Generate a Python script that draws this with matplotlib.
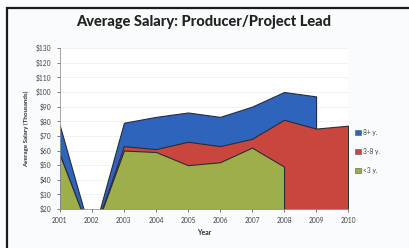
import numpy as np
import matplotlib
matplotlib.use("Agg")
import matplotlib.pyplot as plt
from matplotlib.patches import Rectangle, Patch

# values (thousands of dollars)
years = [2001, 2002, 2003, 2004, 2005, 2006, 2007, 2008, 2009, 2010]
under3 = [57, 0, 60, 59, 50, 52, 62, 49, np.nan, np.nan]
from3to8 = [0, 0, 3, 2, 16, 11, 6, 32, 75, 77]
over8 = [20, 0, 16, 22, 20, 20, 22, 19, 22, np.nan]
series_names = ["8+ y.", "3-8 y.", "<3 y."]
ytick_vals = list(range(20, 140, 10))

blue = "#2f64bd"
red = "#c9463f"
green = "#9eae4b"
edge = "#2b2b3a"

plt.rcParams['font.family'] = ['Lato', 'DejaVu Sans']

x = np.array(years)
g = np.array(under3, dtype=float)
r = np.array(from3to8, dtype=float)
b = np.array(over8, dtype=float)

# stacked tops; a missing lower series counts as zero
cum_g = g
cum_r = np.nan_to_num(g) + r
cum_b = cum_r + b

fig = plt.figure(figsize=(4.1, 2.48), dpi=100)
fig.patch.set_facecolor("#f9fbfc")
ax = fig.add_axes([0.146, 0.157, 0.703, 0.649])
ax.set_facecolor("white")

# draw back to front, each layer filled from zero
for top, col in [(cum_b, blue), (cum_r, red), (cum_g, green)]:
    m = ~np.isnan(top)
    ax.fill_between(x[m], 0, top[m], facecolor=col, edgecolor=edge, linewidth=0.8, zorder=2)

ax.set_xlim(2001, 2010)
ax.set_ylim(20, 130)
ax.set_xticks(years)
ax.set_xticklabels([str(y) for y in years])
ax.set_yticks(ytick_vals)
ax.set_yticklabels(["$%d" % v for v in ytick_vals])
ax.tick_params(labelsize=4.8, colors="#444444", length=2, width=0.5, pad=4)
ax.grid(axis="y", color="#eef0f2", linewidth=0.6, zorder=0)
for s in ["top", "right"]:
    ax.spines[s].set_visible(False)
for s in ["left", "bottom"]:
    ax.spines[s].set_color("#999999")
    ax.spines[s].set_linewidth(0.6)

ax.set_title("Average Salary: Producer/Project Lead", fontsize=10.5, fontweight="black",
             color="#222222", pad=16)
ax.set_xlabel("Year", fontsize=5, fontweight="bold", color="#333333", labelpad=3)
ax.set_ylabel("Average Salary (Thousands)", fontsize=4.5, fontweight="bold", color="#333333",
              labelpad=5)

handles = [Patch(facecolor=c, edgecolor="#555555", linewidth=0.4) for c in [blue, red, green]]
fig.legend(handles, series_names, loc="upper left", bbox_to_anchor=(0.852, 0.505),
           frameon=False, fontsize=4.8, handlelength=0.8, handleheight=0.8,
           labelspacing=1.8, handletextpad=0.4, labelcolor="#444444")

# chart frame (dark top and left edges)
fig.add_artist(Rectangle((7 / 410, -0.1), 1.1, 1.1 - 8 / 248, transform=fig.transFigure,
                         fill=False, edgecolor="#1a1a1a", linewidth=1.6, clip_on=False))

fig.savefig("out.png", dpi=100, facecolor=fig.get_facecolor())
